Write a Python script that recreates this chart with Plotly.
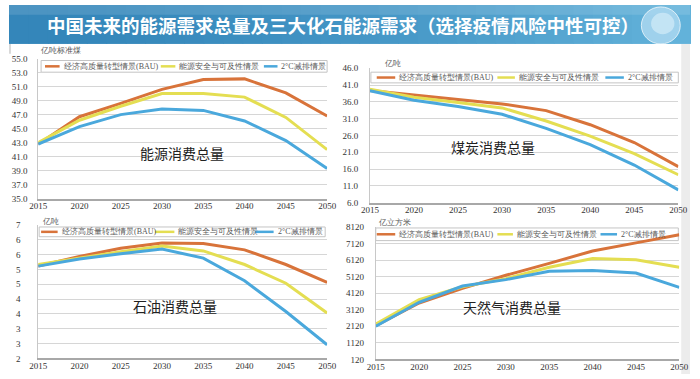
import plotly.graph_objects as go

W, H = 700, 379

# ---------------- data ----------------
YEARS = [2015, 2020, 2025, 2030, 2035, 2040, 2045, 2050]
SERIES_NAMES = ["经济高质量转型情景(BAU)", "能源安全与可及性情景", "2°C减排情景"]

ENERGY_BAU = [42.8, 46.7, 48.6, 50.6, 52.0, 52.1, 50.1, 46.8]
ENERGY_SEC = [43.0, 46.2, 48.2, 50.0, 50.0, 49.5, 46.6, 42.0]
ENERGY_2C = [42.8, 45.3, 47.0, 47.8, 47.6, 46.1, 43.3, 39.3]

COAL_BAU = [39.4, 38.0, 36.6, 35.4, 33.4, 29.2, 23.9, 16.7]
COAL_SEC = [39.8, 37.4, 35.8, 34.2, 30.3, 25.8, 20.6, 14.3]
COAL_2C = [39.3, 36.5, 34.6, 32.3, 28.1, 23.3, 17.2, 9.8]

OIL_BAU = [5.46, 5.82, 6.13, 6.33, 6.31, 6.07, 5.52, 4.85]
OIL_SEC = [5.52, 5.76, 6.00, 6.21, 6.03, 5.52, 4.82, 3.70]
OIL_2C = [5.46, 5.73, 5.92, 6.10, 5.76, 4.91, 3.76, 2.51]

GAS_BAU = [2160, 3530, 4410, 5200, 5920, 6670, 7160, 7650]
GAS_SEC = [2260, 3730, 4510, 5000, 5690, 6220, 6140, 5690]
GAS_2C = [2120, 3570, 4550, 4940, 5450, 5490, 5340, 4470]

ENERGY_TICKS = [35, 37, 39, 41, 43, 45, 47, 49, 51, 53, 55]
COAL_TICKS = [6, 11, 16, 21, 26, 31, 36, 41, 46]
OIL_TICK_TEXT = ["2", "3", "3", "4", "4", "5", "5", "6", "6", "7"]
GAS_TICKS = [120, 1120, 2120, 3120, 4120, 5120, 6120, 7120, 8120]

TITLE = "中国未来的能源需求总量及三大化石能源需求（选择疫情风险中性可控）"
PANEL_LABELS = ["能源消费总量", "煤炭消费总量", "石油消费总量", "天然气消费总量"]
UNITS = ["亿吨标准煤", "亿吨", "亿吨", "亿立方米"]

COLORS = ["#D8733A", "#E4DE52", "#4AA8DC"]

# ---------------- helpers ----------------
def fx(px):
    return px / W

def fy(py):
    return 1 - py / H

SERIF = "Liberation Serif, DejaVu Serif, serif"
CJK = "Noto Sans CJK SC, sans-serif"

fig = go.Figure()

panels = [
    # (suffix, data, xdom px, ydom px, yrange, tickvals, ticktext, y-label standoff)
    ("", [ENERGY_BAU, ENERGY_SEC, ENERGY_2C], (30, 327), (199, 55), [35, 55],
     ENERGY_TICKS, [f"{v:.1f}" for v in ENERGY_TICKS], 8),
    ("2", [COAL_BAU, COAL_SEC, COAL_2C], (371, 688), (203, 65), [6, 46],
     COAL_TICKS, [f"{v:.1f}" for v in COAL_TICKS], 9),
    ("3", [OIL_BAU, OIL_SEC, OIL_2C], (30, 327), (363, 226), [2, 7],
     [2 + i * 5 / 9 for i in range(10)], OIL_TICK_TEXT, 15),
    ("4", [GAS_BAU, GAS_SEC, GAS_2C], (377, 689), (364, 228), [120, 8120],
     GAS_TICKS, [str(v) for v in GAS_TICKS], 9),
]

for suffix, data, xd, yd, yr, tv, tt, so in panels:
    for name, vals, col in zip(SERIES_NAMES, data, COLORS):
        fig.add_trace(go.Scatter(
            x=YEARS, y=vals, name=name, mode="lines",
            line=dict(color=col, width=3),
            xaxis="x" + suffix, yaxis="y" + suffix, showlegend=False,
            hoverinfo="skip",
        ))
    fig.layout["xaxis" + suffix] = dict(
        domain=[fx(xd[0]), fx(xd[1])], range=[2015, 2050],
        tickvals=YEARS, ticktext=[str(y) for y in YEARS],
        showgrid=False, zeroline=False, showline=True, linecolor="#a8a8a8",
        linewidth=1.5, ticks="", ticklabelstandoff=-2,
        ticklabeloverflow="allow",
        tickfont=dict(family=SERIF, size=9, color="#333"),
        anchor="y" + suffix, fixedrange=True,
    )
    fig.layout["yaxis" + suffix] = dict(
        domain=[fy(yd[0]), fy(yd[1])], range=yr,
        tickvals=tv, ticktext=tt,
        showgrid=True, gridcolor="#d6d6d6", gridwidth=1, zeroline=False,
        showline=True, linecolor="#c8c8c8", linewidth=1,
        ticks="", ticklabelstandoff=so, ticklabeloverflow="allow",
        tickfont=dict(family=SERIF, size=9, color="#333"),
        anchor="x" + suffix, fixedrange=True,
    )

shapes = []
annotations = []

# title bar gradient (vertical stripes of colour)
n = 35
c0 = (52, 134, 186)
c1 = (98, 178, 218)
for i in range(n):
    t = (i / (n - 1)) ** 1.5
    c = tuple(int(c0[k] + (c1[k] - c0[k]) * t) for k in range(3))
    shapes.append(dict(type="rect", xref="paper", yref="paper",
                       x0=fx(i * W / n), x1=fx((i + 1) * W / n + 1),
                       y0=fy(40), y1=fy(0), fillcolor=f"rgb{c}",
                       line=dict(width=0), layer="below"))
# lighter top highlight
shapes.append(dict(type="rect", xref="paper", yref="paper", x0=0, x1=1,
                   y0=fy(10), y1=fy(0), fillcolor="rgba(255,255,255,0.12)",
                   line=dict(width=0), layer="below"))
# globe
shapes.append(dict(type="circle", xref="paper", yref="paper",
                   x0=fx(650), x1=fx(690), y0=fy(40), y1=fy(2),
                   fillcolor="rgba(170,215,240,0.85)",
                   line=dict(color="rgba(255,255,255,0.7)", width=1)))
shapes.append(dict(type="circle", xref="paper", yref="paper",
                   x0=fx(660), x1=fx(684), y0=fy(30), y1=fy(8),
                   fillcolor="rgba(220,240,250,0.6)", line=dict(width=0)))
# right and left edge shading
shapes.append(dict(type="rect", xref="paper", yref="paper",
                   x0=fx(691), x1=1, y0=0, y1=fy(40),
                   fillcolor="#ececec", line=dict(width=0), layer="below"))
shapes.append(dict(type="rect", xref="paper", yref="paper",
                   x0=0, x1=fx(2), y0=fy(50), y1=fy(40),
                   fillcolor="#d8d8d8", line=dict(width=0), layer="below"))

annotations.append(dict(text=f"<b>{TITLE}</b>", x=fx(343), y=fy(21),
                        xref="paper", yref="paper", showarrow=False,
                        font=dict(family=CJK, size=18.5, color="white"),
                        xanchor="center", yanchor="middle"))

# legends drawn per panel (box + sample + label)
legend_specs = [
    # box x0,x1, y0,y1, text y, [(line x0, x1, text x)]
    (33, 327, 57, 69, 63, [(37, 52, 54), (156, 171, 173), (262, 276, 278)]),
    (372, 688, 69, 80, 74.5, [(378, 397, 399), (502, 520, 522), (613, 632, 634)]),
    (31, 325, 228, 238, 233, [(33, 50, 52), (150, 170, 172), (253, 272, 274)]),
    (377, 688, 229, 242, 235.5, [(378, 397, 399), (502, 518, 520), (608, 625, 627)]),
]
for bx0, bx1, by0, by1, ty, items in legend_specs:
    shapes.append(dict(type="rect", xref="paper", yref="paper",
                       x0=fx(bx0), x1=fx(bx1), y0=fy(by1), y1=fy(by0),
                       fillcolor="rgba(0,0,0,0)", layer="below",
                       line=dict(color="#c4c4c4", width=1)))
    for (lx0, lx1, tx), name, col in zip(items, SERIES_NAMES, COLORS):
        shapes.append(dict(type="line", xref="paper", yref="paper",
                           x0=fx(lx0), x1=fx(lx1), y0=fy(ty), y1=fy(ty),
                           line=dict(color=col, width=2.5)))
        annotations.append(dict(text=name, x=fx(tx), y=fy(ty), xref="paper",
                                yref="paper", showarrow=False,
                                xanchor="left", yanchor="middle",
                                font=dict(family=SERIF, size=8, color="#555")))

# unit labels
unit_pos = [(30, 47), (383, 60), (32, 222), (377, 223)]
for (ux, uy), u in zip(unit_pos, UNITS):
    annotations.append(dict(text=u, x=fx(ux), y=fy(uy), xref="paper",
                            yref="paper", showarrow=False, xanchor="left",
                            yanchor="middle",
                            font=dict(family=SERIF, size=8, color="#555")))

# panel labels
label_pos = [(178, 152), (498, 146), (171, 309), (517, 310)]
for (lx, ly), t in zip(label_pos, PANEL_LABELS):
    annotations.append(dict(text=t, x=fx(lx), y=fy(ly), xref="paper",
                            yref="paper", showarrow=False, xanchor="center",
                            yanchor="middle",
                            font=dict(family=CJK, size=14, color="#222")))

fig.update_layout(
    width=W, height=H, margin=dict(l=0, r=0, t=0, b=0),
    paper_bgcolor="white", plot_bgcolor="white",
    shapes=shapes, annotations=annotations, showlegend=False,
)

fig.write_html(
    "out.html",
    config={"displayModeBar": False},
    post_script="document.body.style.margin='0';document.body.style.overflow='hidden';",
)
